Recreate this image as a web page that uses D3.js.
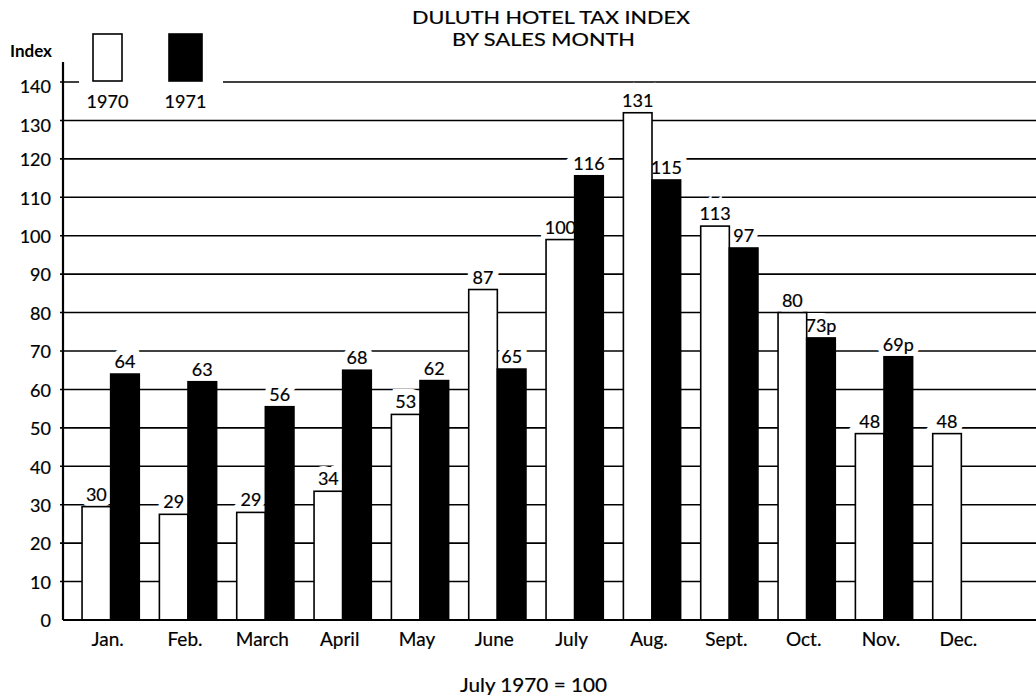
<!DOCTYPE html>
<html>
<head>
<meta charset="utf-8">
<script src="https://cdn.jsdelivr.net/npm/d3@7"></script>
<style>
  body { margin: 0; background: #fff; }
  svg { display: block; }
  text { font-family: "Lato", "DejaVu Sans", sans-serif; fill: #000; }
  .ink { stroke: #000; stroke-width: 0.2; }
</style>
</head>
<body>
<svg id="drawing_region"></svg>
<script>
// values (bar heights as drawn) and the printed labels
const months = ['Jan.', 'Feb.', 'March', 'April', 'May', 'June', 'July', 'Aug.', 'Sept.', 'Oct.', 'Nov.', 'Dec.'];
const years = ['1970', '1971'];
const values1970 = [29.5, 27.5, 28, 33.5, 53.5, 86, 99, 132, 102.5, 80, 48.5, 48.5];
const values1971 = [64, 62, 55.5, 65, 62.3, 65.3, 115.6, 114.5, 96.8, 73.4, 68.5, null];
const labels1970 = ['30', '29', '29', '34', '53', '87', '100', '131', '113', '80', '48', '48'];
const labels1971 = ['64', '63', '56', '68', '62', '65', '116', '115', '97', '73p', '69p', ''];
const yTicks = [0, 10, 20, 30, 40, 50, 60, 70, 80, 90, 100, 110, 120, 130, 140];

class HotelChart {

    constructor( config ) {
        this.config = config;
        this.init();
    }

    init() {
        let self = this;

        self.svg = d3.select( self.config.parent )
            .attr('width', self.config.width)
            .attr('height', self.config.height);

        self.xscale = d3.scaleBand()
            .domain( months )
            .range( [72, 1000] )
            .paddingInner( 0.26 )
            .paddingOuter( 0.13 );

        self.x1 = d3.scaleBand()
            .domain( years )
            .range( [0, self.xscale.bandwidth()] );

        self.yscale = d3.scaleLinear()
            .domain( [0, 140] )
            .range( [620, 82] );

        self.rows = months.map( (m, i) => ({
            month: m,
            bars: [
                { year: '1970', v: values1970[i], label: labels1970[i] },
                { year: '1971', v: values1971[i], label: labels1971[i] }
            ].filter( b => b.v != null )
        }));
    }

    render() {
        let self = this;
        const axisX = 63;
        const right = self.config.width;

        // grid lines
        self.svg.append('g')
            .selectAll('line')
            .data( yTicks.filter( t => t > 0 ) )
            .join('line')
            .attr('x1', axisX - 3)
            .attr('x2', right)
            .attr('y1', d => self.yscale(d))
            .attr('y2', d => self.yscale(d))
            .attr('stroke', '#000')
            .attr('stroke-width', 1.6);

        // legend area clears the top line
        self.svg.append('rect')
            .attr('x', 79).attr('y', 70)
            .attr('width', 144).attr('height', 42)
            .attr('fill', '#fff');

        // tick labels
        self.svg.append('g')
            .selectAll('text')
            .data( yTicks )
            .join('text')
            .attr('class', 'ink')
            .attr('x', 51)
            .attr('y', d => self.yscale(d) + (d >= 130 ? 5 : 1))
            .attr('dy', '0.35em')
            .attr('text-anchor', 'end')
            .attr('font-size', 18)
            .text( d => d );

        // value labels, white halo breaks the grid lines
        const groups = self.svg.append('g')
            .selectAll('g')
            .data( self.rows )
            .join('g')
            .attr('transform', d => `translate(${self.xscale(d.month)},0)`);

        const labelX = d => self.x1(d.year) + self.x1.bandwidth() / 2;
        const labelY = d => self.yscale(d.v) - 6;

        groups.selectAll('text.halo')
            .data( d => d.bars )
            .join('text')
            .attr('class', 'halo')
            .attr('x', labelX)
            .attr('y', labelY)
            .attr('text-anchor', 'middle')
            .attr('font-size', 18)
            .attr('stroke', '#fff')
            .attr('stroke-width', 12)
            .style('fill', '#fff')
            .text( d => d.label );

        groups.selectAll('text.val')
            .data( d => d.bars )
            .join('text')
            .attr('class', 'val ink')
            .attr('x', labelX)
            .attr('y', labelY)
            .attr('text-anchor', 'middle')
            .attr('font-size', 18)
            .text( d => d.label );

        groups.selectAll('rect')
            .data( d => d.bars )
            .join('rect')
            .attr('x', d => self.x1(d.year))
            .attr('y', d => self.yscale(d.v))
            .attr('width', self.x1.bandwidth())
            .attr('height', d => self.yscale(0) - self.yscale(d.v))
            .attr('fill', d => d.year == '1970' ? '#fff' : '#000')
            .attr('stroke', '#000')
            .attr('stroke-width', 1.6);

        // axes
        self.svg.append('line')
            .attr('x1', axisX).attr('x2', axisX)
            .attr('y1', 62).attr('y2', self.yscale(0))
            .attr('stroke', '#000').attr('stroke-width', 2.2);
        self.svg.append('line')
            .attr('x1', axisX).attr('x2', right)
            .attr('y1', self.yscale(0)).attr('y2', self.yscale(0))
            .attr('stroke', '#000').attr('stroke-width', 2.2);

        // month labels
        self.svg.append('g')
            .selectAll('text')
            .data( months )
            .join('text')
            .attr('class', 'ink')
            .attr('x', d => self.xscale(d) + self.xscale.bandwidth() / 2 - 3)
            .attr('y', 646)
            .attr('text-anchor', 'middle')
            .attr('font-size', 19)
            .text( d => d );

        // legend
        const legend = [
            { year: '1970', x: 93, w: 29, fill: '#fff' },
            { year: '1971', x: 169, w: 33, fill: '#000' }
        ];
        self.svg.append('g')
            .selectAll('rect')
            .data( legend )
            .join('rect')
            .attr('x', d => d.x).attr('y', 34)
            .attr('width', d => d.w).attr('height', 47)
            .attr('fill', d => d.fill)
            .attr('stroke', '#000').attr('stroke-width', 1.6);
        self.svg.append('g')
            .selectAll('text')
            .data( legend )
            .join('text')
            .attr('class', 'ink')
            .attr('x', d => d.x + d.w / 2)
            .attr('y', 108)
            .attr('text-anchor', 'middle')
            .attr('font-size', 18)
            .text( d => d.year );

        // titles
        self.svg.append('text')
            .attr('x', 10).attr('y', 57)
            .attr('font-size', 17).attr('font-weight', 'bold')
            .text('Index');
        self.svg.append('text')
            .attr('class', 'ink')
            .attr('x', 412).attr('y', 24)
            .attr('font-size', 17)
            .attr('textLength', 278)
            .attr('lengthAdjust', 'spacingAndGlyphs')
            .text('DULUTH HOTEL TAX INDEX');
        self.svg.append('text')
            .attr('class', 'ink')
            .attr('x', 452).attr('y', 46)
            .attr('font-size', 17)
            .attr('textLength', 183)
            .attr('lengthAdjust', 'spacingAndGlyphs')
            .text('BY SALES MONTH');
        self.svg.append('text')
            .attr('class', 'ink')
            .attr('x', 460).attr('y', 692)
            .attr('font-size', 19)
            .attr('textLength', 147)
            .attr('lengthAdjust', 'spacingAndGlyphs')
            .text('July 1970 = 100');
    }
}

const chart = new HotelChart({
    parent: '#drawing_region',
    width: 1036,
    height: 700
});
chart.render();
</script>
</body>
</html>
